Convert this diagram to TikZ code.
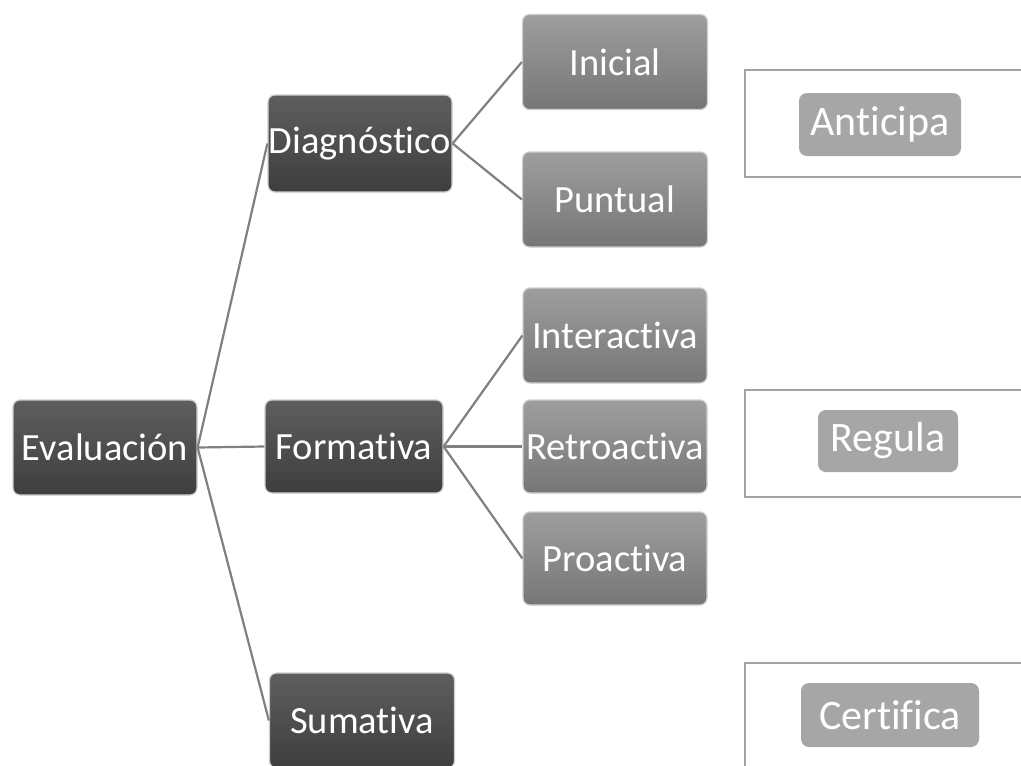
\documentclass[tikz,border=0pt]{standalone}
\usepackage{fontspec}
\setmainfont{Carlito}[Ligatures=NoCommon]
\definecolor{dkTop}{HTML}{5E5E5E}
\definecolor{dkBot}{HTML}{3E3E3E}
\definecolor{ltTop}{HTML}{9E9E9E}
\definecolor{ltBot}{HTML}{767676}
\definecolor{edgeC}{HTML}{CFCFCF}
\definecolor{lineC}{HTML}{808080}
\definecolor{panelC}{HTML}{A3A3A3}
\definecolor{tagC}{HTML}{A6A6A6}
\begin{document}
\begin{tikzpicture}[x=1pt,y=-1pt,
  boxbase/.style={rounded corners=7pt, inner sep=0pt, text=white, draw=edgeC, line width=1.2pt,
    font=\fontsize{38.5}{44}\selectfont},
  darkbox/.style={boxbase, top color=dkTop, bottom color=dkBot},
  lightbox/.style={boxbase, top color=ltTop, bottom color=ltBot},
  conn/.style={draw=lineC, line width=2.2pt},
  panel/.style={draw=panelC, line width=2pt, fill=white, inner sep=0pt},
  tag/.style={fill=tagC, rounded corners=8pt, text=white, inner sep=0pt,
    font=\fontsize{42}{48}\selectfont}
]
\useasboundingbox (0,0) rectangle (1021,766);
\fill[white] (0,0) rectangle (1021,766);

% right panels
\node[panel, minimum width=290pt, minimum height=107pt] (pA) at (890,123.5) {};
\node[panel, minimum width=290pt, minimum height=107pt] (pR) at (890,443) {};
\node[panel, minimum width=290pt, minimum height=107pt] (pC) at (890,716) {};
\node[tag, minimum width=162pt, minimum height=63pt] (tA) at (880,124.5) {Anticipa};
\node[tag, minimum width=140pt, minimum height=62pt] (tR) at (888,441) {Regula};
\node[tag, minimum width=178pt, minimum height=64pt] (tC) at (890,715) {Certifica};

% tree nodes
\node[darkbox, minimum width=184pt, minimum height=95pt] (ev) at (105,447.5) {Evaluación};
\node[darkbox, minimum width=184pt, minimum height=97pt] (di) at (360,143.5) {Diagnóstico};
\node[darkbox, minimum width=178pt, minimum height=93pt] (fo) at (354,446.5) {Formativa};
\node[darkbox, minimum width=185pt, minimum height=95pt] (su) at (362,720.5) {Sumativa};

\node[lightbox, minimum width=185pt, minimum height=95pt] (in) at (615,62) {Inicial};
\node[lightbox, minimum width=185pt, minimum height=95pt] (pu) at (615,199.5) {Puntual};
\node[lightbox, minimum width=184pt, minimum height=95pt] (it) at (615,335.5) {Interactiva};
\node[lightbox, minimum width=184pt, minimum height=93pt] (re) at (615,446.5) {Retroactiva};
\node[lightbox, minimum width=184pt, minimum height=93pt] (pr) at (615,558.5) {Proactiva};

% connectors
\draw[conn] (ev.east) -- (di.west);
\draw[conn] (ev.east) -- (fo.west);
\draw[conn] (ev.east) -- (su.west);
\draw[conn] (di.east) -- (in.west);
\draw[conn] (di.east) -- (pu.west);
\draw[conn] (fo.east) -- (it.west);
\draw[conn] (fo.east) -- (re.west);
\draw[conn] (fo.east) -- (pr.west);
\end{tikzpicture}
\end{document}
